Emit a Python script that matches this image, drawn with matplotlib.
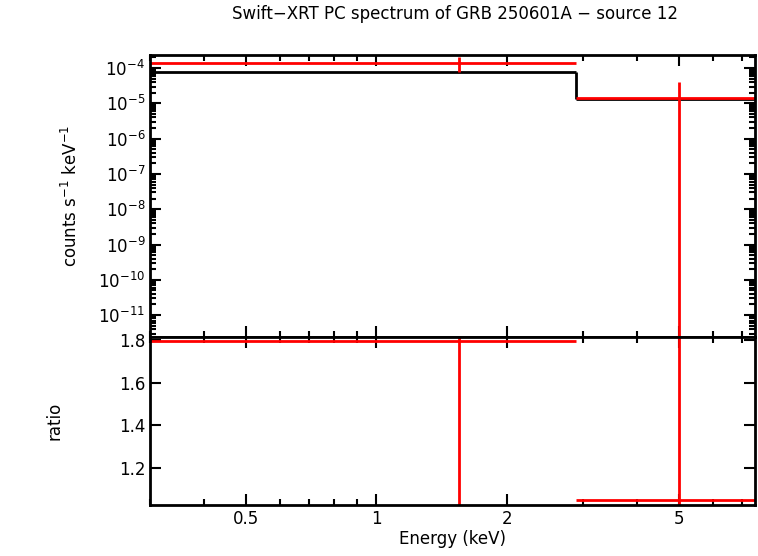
import matplotlib
matplotlib.use("Agg")
import matplotlib.pyplot as plt
import numpy as np

bin_lo = [0.3, 2.9]
bin_hi = [2.9, 7.5]
bin_ctr = [1.55, 5.0]
data_rate = [1.4e-4, 1.4e-5]
data_err_hi = [2.0e-4, 4.0e-5]
data_err_lo = [8.0e-5, 1e-13]
model_rate = [7.7e-5, 1.35e-5]
ratio = [1.795, 1.05]
ratio_err_hi = [2.0, 2.0]
ratio_err_lo = [0.9, 0.9]

fig = plt.figure(figsize=(7.58, 5.56), dpi=100)
ax1 = fig.add_axes([0.198, 0.394, 0.798, 0.507])
ax2 = fig.add_axes([0.198, 0.092, 0.798, 0.302], sharex=ax1)

for i in range(2):
    ax1.hlines(model_rate[i], bin_lo[i], bin_hi[i], color="black", lw=2)
ax1.vlines(bin_hi[0], model_rate[1], model_rate[0], color="black", lw=2)
for i in range(2):
    ax1.hlines(data_rate[i], bin_lo[i], bin_hi[i], color="red", lw=2)
    ax1.vlines(bin_ctr[i], data_err_lo[i], data_err_hi[i], color="red", lw=2)
    ax2.hlines(ratio[i], bin_lo[i], bin_hi[i], color="red", lw=2)
    ax2.vlines(bin_ctr[i], ratio_err_lo[i], ratio_err_hi[i], color="red", lw=2)

ax1.set_xscale("log")
ax1.set_yscale("log")
ax1.set_xlim(0.3, 7.5)
ax1.set_ylim(10**-11.62, 10**-3.63)
ax1.set_yticks([10.0**k for k in range(-11, -3)])
ax2.set_ylim(1.027, 1.814)
ax2.set_yticks([1.2, 1.4, 1.6, 1.8])
ax2.set_yticklabels(["1.2", "1.4", "1.6", "1.8"])
ax2.set_xticks([0.5, 1, 2, 5])
ax2.set_xticklabels(["0.5", "1", "2", "5"])
plt.setp(ax1.get_xticklabels(), visible=False)

for ax in (ax1, ax2):
    for s in ax.spines.values():
        s.set_linewidth(2)
    ax.tick_params(which="both", direction="in", top=True, right=True, labelsize=12, width=1.5)
    ax.tick_params(which="major", length=8)
    ax.tick_params(which="minor", length=4)

ax1.set_ylabel("counts s$^{-1}$ keV$^{-1}$", fontsize=12, labelpad=12)
ax2.set_ylabel("ratio", fontsize=12, labelpad=40)
ax2.set_xlabel("Energy (keV)", fontsize=12, labelpad=2)
fig.text(0.6, 0.965, "Swift\u2212XRT PC spectrum of GRB 250601A \u2212 source 12", ha="center", fontsize=12)
fig.savefig("out.png", dpi=100)
